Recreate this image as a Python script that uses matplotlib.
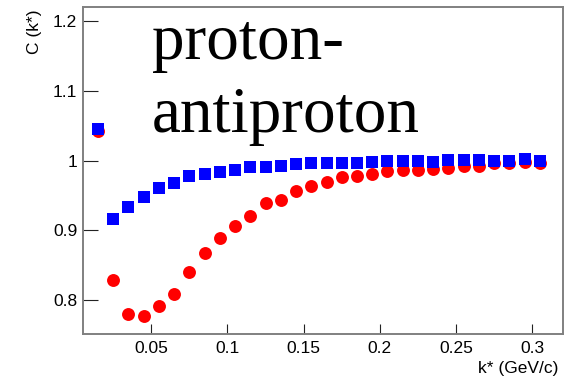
import matplotlib
matplotlib.use("Agg")
import matplotlib.pyplot as plt
import numpy as np

kstar = [0.015 + 0.01 * i for i in range(30)]
c_red = [1.043, 0.829, 0.780, 0.777, 0.792, 0.809, 0.840, 0.868, 0.889, 0.906,
         0.921, 0.939, 0.944, 0.956, 0.964, 0.970, 0.977, 0.978, 0.981, 0.985,
         0.986, 0.987, 0.988, 0.989, 0.993, 0.992, 0.996, 0.996, 0.998, 0.996]
c_blue = [1.045, 0.916, 0.933, 0.948, 0.961, 0.968, 0.978, 0.981, 0.984, 0.987,
          0.991, 0.991, 0.992, 0.995, 0.996, 0.997, 0.997, 0.997, 0.998, 0.999,
          0.999, 0.999, 0.998, 1.001, 1.001, 1.001, 1.000, 0.999, 1.002, 1.000]
xticks = [0.05, 0.1, 0.15, 0.2, 0.25, 0.3]
xticklabels = ["0.05", "0.1", "0.15", "0.2", "0.25", "0.3"]
yticks = [0.8, 0.9, 1.0, 1.1, 1.2]
yticklabels = ["0.8", "0.9", "1", "1.1", "1.2"]

W, H = 567, 376
fig = plt.figure(figsize=(W / 100, H / 100), dpi=100)
ax = fig.add_axes([82.7 / W, 1 - 334.3 / H, (562.7 - 82.7) / W, (334.3 - 7.3) / H])

ax.plot(kstar, c_red, 'o', color='#ff0000', ms=9.3, mew=0, zorder=2)
ax.plot(kstar, c_blue, 's', color='#0000ff', ms=8.6, mew=0, zorder=3)

ax.set_xlim(0.005, 0.32)
ax.set_ylim(0.751, 1.22)

ax.set_xticks(xticks)
ax.set_xticklabels(xticklabels)
ax.set_yticks(yticks)
ax.set_yticklabels(yticklabels)

fs = 12.5
for lab in ax.get_xticklabels() + ax.get_yticklabels():
    lab.set_fontfamily('Liberation Sans')
    lab.set_fontsize(fs)

ax.tick_params(axis='x', direction='in', length=7.2, width=0.8, color='#222222', pad=5)
ax.tick_params(axis='y', direction='in', length=10.8, width=0.8, color='#222222', pad=4)
ax.tick_params(top=False, right=False)

for s in ax.spines.values():
    s.set_color('#808080')
    s.set_linewidth(1.4)

fig.text(558 / W, 1 - 368 / H, "k* (GeV/c)", ha='right', va='center',
         fontsize=fs, family='Liberation Sans')
fig.text(34 / W, 1 - 10 / H, "C (k*)", ha='center', va='top', rotation=90,
         fontsize=fs, family='Liberation Sans')

fig.text(152 / W, 1 - 59 / H, "proton-", ha='left', va='baseline',
         fontsize=47, family='Liberation Serif')
fig.text(152 / W, 1 - 132 / H, "antiproton", ha='left', va='baseline',
         fontsize=47, family='Liberation Serif')

fig.savefig("out.png", dpi=100)
